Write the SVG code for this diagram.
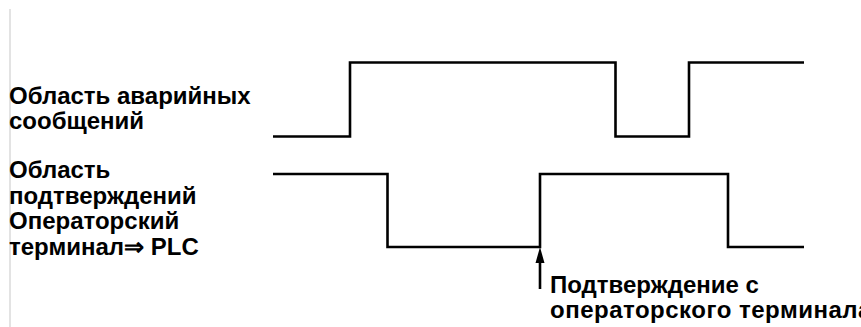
<svg xmlns="http://www.w3.org/2000/svg" width="861" height="327" viewBox="0 0 861 327">
  <style>
    .label { font-family: "Liberation Sans", Arial, sans-serif; font-weight: bold; font-size: 24px; fill: #000; }
    .wave { fill: none; stroke: #000; stroke-width: 2.6; stroke-linejoin: miter; }
    .frame { stroke: #d0d0d0; stroke-width: 1.2; }
  </style>
  <rect width="861" height="327" fill="#fff"/>
  <!-- left border rule -->
  <line class="frame" x1="10" y1="9" x2="10" y2="327"/>

  <g id="alarm-label">
    <text class="label" x="9" y="104">Область аварийных</text>
    <text class="label" x="9" y="129">сообщений</text>
  </g>
  <g id="ack-label">
    <text class="label" x="9" y="178">Область</text>
    <text class="label" x="9" y="204">подтверждений</text>
    <text class="label" x="9" y="229">Операторский</text>
    <text class="label" x="9" y="255">терминал⇒ PLC</text>
  </g>

  <g id="connectors">
    <!-- alarm area signal -->
    <path id="alarm-wave" class="wave" d="M273,136.5 H350 V62.5 H615.5 V136.5 H689 V62.5 H804"/>
    <!-- acknowledgement area signal -->
    <path id="ack-wave" class="wave" d="M273,174 H387.5 V247 H540 V174 H728 V247 H804"/>
    <!-- acknowledgement event marker -->
    <line x1="540" y1="289" x2="540" y2="260" stroke="#000" stroke-width="2.6"/>
    <polygon points="540,247 544.5,263 535.5,263" fill="#000"/>
  </g>

  <g id="ack-note">
    <text class="label" x="550" y="293">Подтверждение с</text>
    <text class="label" x="550" y="318" letter-spacing="0.5">операторского терминала</text>
  </g>
</svg>
